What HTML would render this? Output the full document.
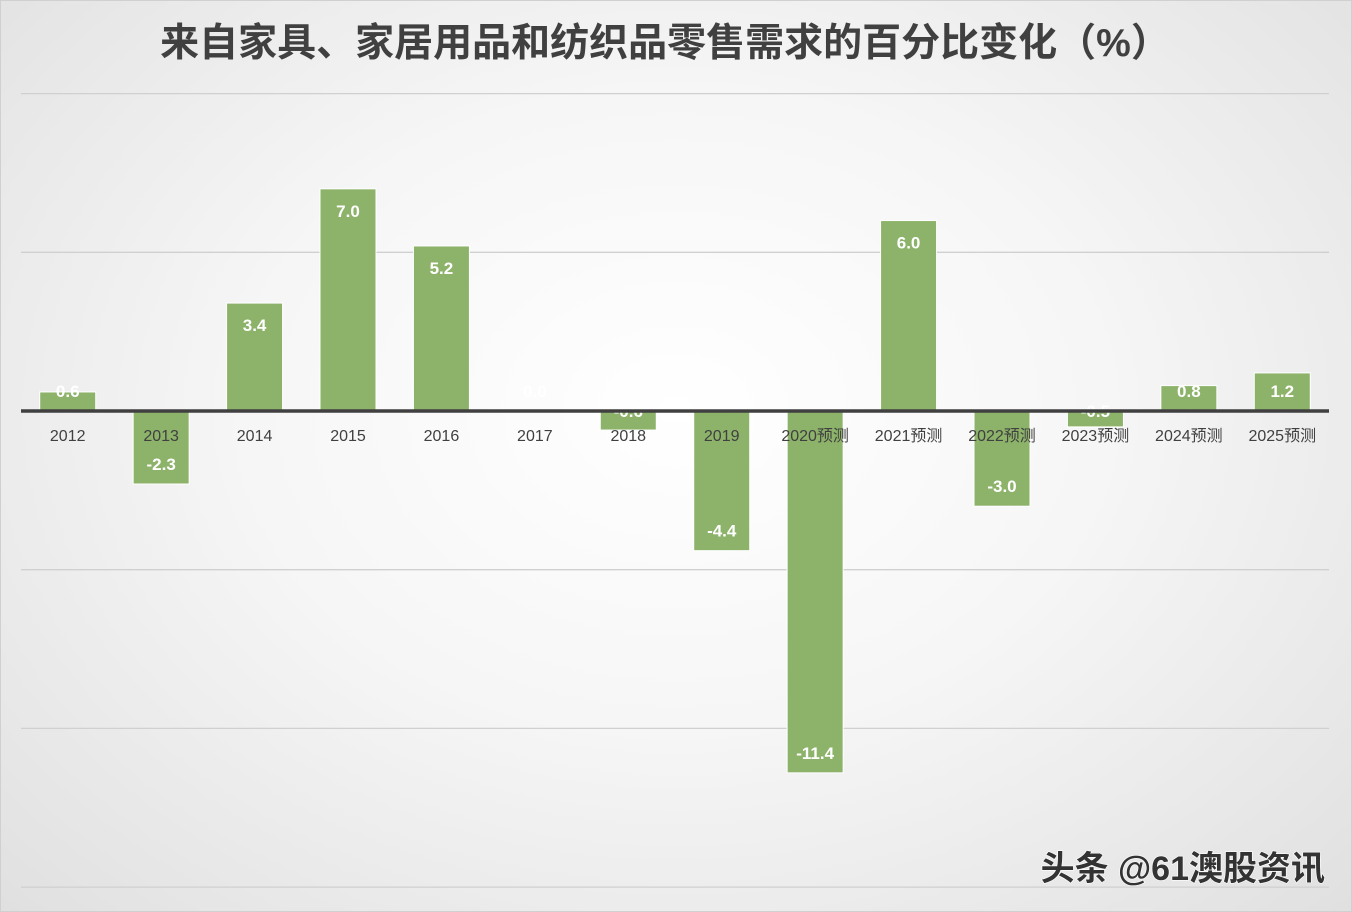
<!DOCTYPE html>
<html><head><meta charset="utf-8"><style>
body{margin:0;width:1352px;height:912px;overflow:hidden;font-family:"Liberation Sans","Noto Sans CJK SC",sans-serif}
#bg{position:absolute;left:0;top:0;width:1352px;height:912px;background:radial-gradient(ellipse at 50% 45%,#ffffff 0%,#f6f6f6 45%,#e0e0e0 100%);border:1px solid #d0d0d0;box-sizing:border-box}
</style></head><body>
<div id="bg"></div>
<svg id="c" width="1352" height="912" style="position:absolute;left:0;top:0">
<text x="665" y="56" text-anchor="middle" font-size="39" font-weight="bold" fill="#404040" font-family="Liberation Sans,Noto Sans CJK SC,sans-serif">来自家具、家居用品和纺织品零售需求的百分比变化（%）</text>
<g id="grid"></g><g id="bars"></g><g id="neglabels"></g><g id="axis"></g><g id="labels"></g>
<text x="1325" y="880" text-anchor="end" font-size="34" font-weight="bold" fill="#333" stroke="#fff" stroke-width="1.2" paint-order="stroke" font-family="Liberation Sans,Noto Sans CJK SC,sans-serif">头条 @61澳股资讯</text>
</svg>
<script>
const categories=["2012","2013","2014","2015","2016","2017","2018","2019","2020预测","2021预测","2022预测","2023预测","2024预测","2025预测"];
const values=[0.6,-2.3,3.4,7.0,5.2,0.0,-0.6,-4.4,-11.4,6.0,-3.0,-0.5,0.8,1.2];
const gridTicks=[10,5,0,-5,-10,-15];
const NS="http://www.w3.org/2000/svg";
const left=21,right=1329,zeroY=411,ppu=31.74;
const step=(right-left)/categories.length,bw=56;
const y=v=>zeroY-v*ppu;
const x=i=>left+step*(i+0.5);
function mk(t,a,p){const e=document.createElementNS(NS,t);for(const k in a)e.setAttribute(k,a[k]);document.getElementById(p).appendChild(e);return e;}
gridTicks.forEach(t=>{if(t===0)return;
const l=mk('line',{x1:left,x2:right,y1:y(t),y2:y(t),stroke:'#d0d0d0','stroke-width':1.3},'grid');

});
values.forEach((v,i)=>{
const top=Math.min(y(v),zeroY),h=Math.max(Math.abs(y(v)-zeroY),1);
const r=mk('rect',{x:x(i)-bw/2,y:top,width:bw,height:h,fill:'#8db36a',stroke:'#fff','stroke-width':1},'bars');


let cy=v>=0?Math.min(y(v)+22,391):Math.max(y(v)-20,411);
const t=mk('text',{x:x(i),y:cy+6,'text-anchor':'middle','font-size':17,'font-weight':'bold',fill:'#fff'},v<0?'neglabels':'labels');
t.textContent=v.toFixed(1);


const c=mk('text',{x:x(i),y:441,'text-anchor':'middle','font-size':16,fill:'#404040'},'labels');
c.textContent=categories[i];


});
const ax=mk('line',{x1:left,x2:right,y1:zeroY,y2:zeroY,stroke:'#404040','stroke-width':3.5},'axis');


</script>
</body></html>
